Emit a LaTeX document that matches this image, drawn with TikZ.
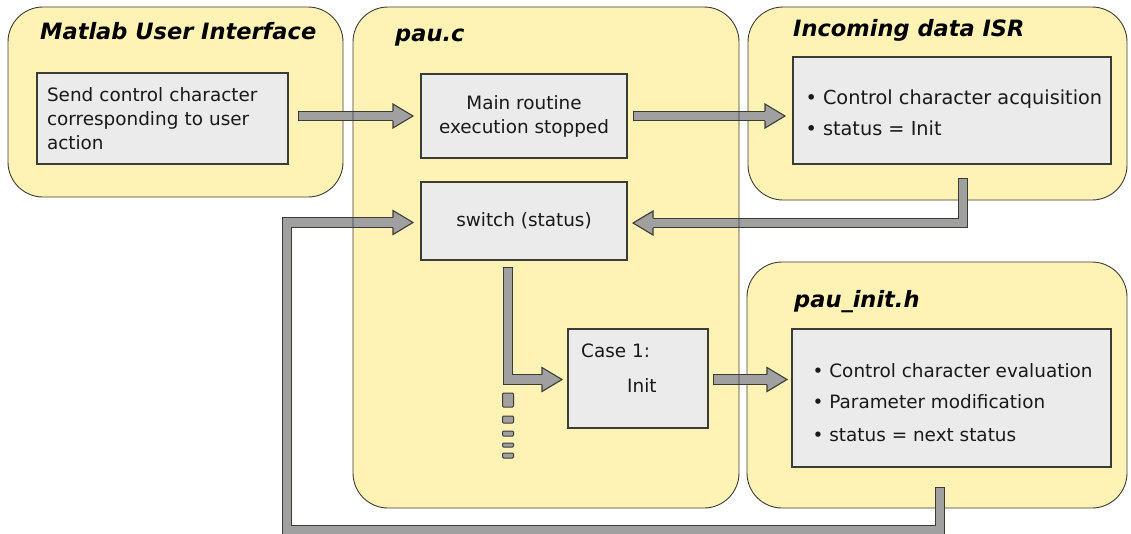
\documentclass[tikz,border=0pt]{standalone}
\usepackage{fontspec}
\setmainfont{DejaVu Sans}[ItalicFont={DejaVu Sans Oblique},BoldFont={DejaVu Sans Bold},BoldItalicFont={DejaVu Sans Bold Oblique}]
\usetikzlibrary{calc}

\definecolor{panelfill}{RGB}{255,242,181}
\definecolor{boxfill}{RGB}{235,235,235}
\definecolor{arrowfill}{RGB}{160,160,160}
\definecolor{edgecol}{RGB}{60,60,55}
\definecolor{inkcol}{RGB}{25,25,25}

\newcommand\bodyfnt{\fontsize{18.4}{24}\selectfont}
\newcommand\isrfnt{\fontsize{19.3}{24}\selectfont}
\newcommand\titlefnt{\fontsize{22.5}{27}\selectfont\bfseries\itshape}

\begin{document}
\begin{tikzpicture}[x=1pt,y=-1pt,
  panel/.style={fill=panelfill, rounded corners=35pt, anchor=north west, inner sep=0pt, outer sep=0pt},
  panelline/.style={draw=edgecol, line width=0.9pt, rounded corners=35pt},
  box/.style={fill=boxfill, draw=edgecol, line width=1.1pt, anchor=north west,
              inner sep=0pt, outer sep=0pt, font=\bodyfnt, text=inkcol},
  title/.style={anchor=base west, inner sep=0pt, font=\titlefnt, text=black},
  txt/.style={anchor=base west, inner sep=0pt, font=\bodyfnt, text=inkcol},
  shaft/.style={draw=edgecol, double=arrowfill, double distance=8.6pt, line width=1.1pt,
                line join=miter, line cap=rect},
  bhead/.pic={
    \fill[arrowfill] (-20,-12) -- (0,0) -- (-20,12) -- cycle;
    \draw[edgecol, line width=1.1pt, line join=miter]
      (-20,-5) -- (-20,-12) -- (0,0) -- (-20,12) -- (-20,5);
  }
]
\useasboundingbox (0,0) rectangle (1131,533);
\clip (0,0) rectangle (1131,533);

% ---- module panels ----
\node[panel, minimum width=335pt, minimum height=190pt] (ui)   at (8,7)    {};
\node[panel, minimum width=386pt, minimum height=501pt] (pauc) at (353,7)  {};
\node[panel, minimum width=379pt, minimum height=193pt] (isr)  at (748,7)  {};
\node[panel, minimum width=380pt, minimum height=246pt] (init) at (747,262) {};
\foreach \p in {ui,isr,init}
  \draw[panelline] (\p.north west) rectangle (\p.south east);

% ---- panel titles ----
\node[title] (tui)   at (40,39)   {Matlab User Interface};
\node[title] (tpauc) at (395,41)  {pau.c};
\node[title] (tisr)  at (793,36)  {Incoming data ISR};
\node[title] (tinit) at (794,307) {pau\_init.h};

% ---- step boxes ----
\node[box, minimum width=251pt, minimum height=91pt, text width=231pt, align=left] (send) at (37,73)
  {Send control character\\corresponding to user\\action};
\node[box, minimum width=206pt, minimum height=84pt, align=center] (main) at (421,74)
  {Main routine\\execution stopped};
\node[box, minimum width=206pt, minimum height=78pt] (sw) at (421,182) {switch (status)};
\node[box, minimum width=318pt, minimum height=107pt] (isrbox)  at (793,57)  {};
\node[box, minimum width=140pt, minimum height=99pt]  (case)    at (568,329) {};
\node[box, minimum width=319pt, minimum height=138pt] (initbox) at (792,329) {};

\node[txt, font=\isrfnt] (isr1) at (805.3,104) {\textbullet\ Control character acquisition};
\node[txt, font=\isrfnt] (isr2) at (805.3,135) {\textbullet\ status = Init};
\node[txt] (in1) at (812.5,377) {\textbullet\ Control character evaluation};
\node[txt] (in2) at (812.5,408) {\textbullet\ Parameter modification};
\node[txt] (in3) at (812.5,441) {\textbullet\ status = next status};
\node[txt] (c1) at (581,357) {Case 1:};
\node[txt] (c2) at (627,392) {Init};

% ---- block arrows ----
% user interface -> main routine
\coordinate (t1) at ($(main.west)+(-8,0)$);
\coordinate (s1) at ($(send.east |- t1)+(15,0)$);
\draw[shaft] (s1) -- ($(t1)+(-20,0)$);
\pic at (t1) {bhead};

% main routine -> ISR
\coordinate (s2) at ($(main.east)+(11,0)$);
\coordinate (t2) at ($(isrbox.west |- s2)+(-8,0)$);
\draw[shaft] (s2) -- ($(t2)+(-20,0)$);
\pic at (t2) {bhead};

% ISR -> switch
\coordinate (s3) at ($(isrbox.south)+(11,19)$);
\coordinate (t3) at ($(sw.east)+(6,2)$);
\draw[shaft] (s3) |- ($(t3)+(20,0)$);
\pic[rotate=180] at (t3) {bhead};

% pau_init.h -> switch (loop back)
\coordinate (s4) at ($(initbox.south)+(-11.5,25)$);
\coordinate (t4) at ($(sw.west)+(-8,1.5)$);
\coordinate (k4) at (287,530);
\draw[shaft] (s4) |- (k4) |- ($(t4)+(-20,0)$);
\pic at (t4) {bhead};

% switch -> case 1
\coordinate (s5) at ($(sw.south)+(-16,12)$);
\coordinate (t5) at ($(case.west)+(-6,1)$);
\draw[shaft] (s5) |- ($(t5)+(-20,0)$);
\pic at (t5) {bhead};

% further cases
\foreach \ya/\yb in {393/407, 416/423, 431/436, 443/447, 453/458}
  \draw[fill=arrowfill, draw=edgecol, line width=1pt, rounded corners=1pt]
    (502.5,\ya) rectangle (513.5,\yb);

% case 1 -> pau_init.h
\coordinate (s6) at ($(case.east)+(10,1)$);
\coordinate (t6) at ($(initbox.west |- s6)+(-5,0)$);
\draw[shaft] (s6) -- ($(t6)+(-20,0)$);
\pic at (t6) {bhead};

% pau.c outline over the arrows
\draw[panelline] (pauc.north west) rectangle (pauc.south east);
\end{tikzpicture}
\end{document}
